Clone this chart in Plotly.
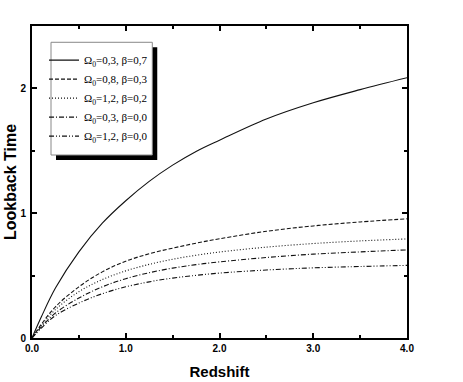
import plotly.graph_objects as go

# Redshift sample points
redshift = [0.0, 0.1, 0.25, 0.5, 0.75, 1.0, 1.25, 1.5, 1.75, 2.0, 2.5, 3.0, 3.5, 4.0]

# Lookback time
lt_03_07 = [0.0, 0.17, 0.40, 0.69, 0.92, 1.10, 1.255, 1.385, 1.495, 1.585, 1.755, 1.885, 1.99, 2.085]
lt_08_03 = [0.0, 0.11, 0.25, 0.41, 0.53, 0.615, 0.675, 0.72, 0.76, 0.795, 0.855, 0.898, 0.93, 0.955]
lt_12_02 = [0.0, 0.10, 0.228, 0.371, 0.468, 0.538, 0.59, 0.631, 0.663, 0.689, 0.728, 0.757, 0.778, 0.794]
lt_03_00 = [0.0, 0.09, 0.20, 0.32, 0.41, 0.475, 0.523, 0.56, 0.588, 0.61, 0.645, 0.672, 0.69, 0.706]
lt_12_00 = [0.0, 0.08, 0.18, 0.28, 0.355, 0.41, 0.45, 0.48, 0.502, 0.52, 0.545, 0.562, 0.573, 0.582]

series_names = [
    "Ω<sub>0</sub>=0,3, β=0,7",
    "Ω<sub>0</sub>=0,8, β=0,3",
    "Ω<sub>0</sub>=1,2, β=0,2",
    "Ω<sub>0</sub>=0,3, β=0,0",
    "Ω<sub>0</sub>=1,2, β=0,0",
]
series_values = [lt_03_07, lt_08_03, lt_12_02, lt_03_00, lt_12_00]
series_dash = ["solid", "4px,2px", "1px,2px", "5px,2px,1px,2px", "5px,2px,1px,2px,1px,2px"]

x_ticks = [0, 1, 2, 3, 4]
x_ticktext = ["0.0", "1.0", "2.0", "3.0", "4.0"]
y_ticks = [0, 1, 2]
y_ticktext = ["0", "1", "2"]

fig = go.Figure()
for name, vals, dash in zip(series_names, series_values, series_dash):
    fig.add_trace(go.Scatter(
        x=redshift, y=vals, mode="lines", name=name,
        line=dict(color="#111111", width=1.1, dash=dash, shape="spline", smoothing=1.0),
    ))

tickfont = dict(family="Liberation Sans, Arial, sans-serif", size=10, color="black", weight="bold")
axis_common = dict(
    showline=True, linecolor="black", linewidth=2, mirror="ticks",
    ticks="inside", ticklen=5, tickwidth=1.5, tickcolor="black",
    showgrid=False, zeroline=False, tickfont=tickfont, automargin=False,
    minor=dict(ticks="inside", ticklen=3, tickwidth=1.5, tickcolor="black", dtick=0.5, showgrid=False),
)

fig.update_layout(
    width=463, height=382,
    margin=dict(l=32, r=56, t=26, b=44),
    paper_bgcolor="white", plot_bgcolor="white",
    xaxis=dict(range=[0, 4], tickvals=x_ticks, ticktext=x_ticktext,
               title=dict(text="Redshift", standoff=13,
                          font=dict(family="Liberation Sans, Arial, sans-serif", size=15, color="black", weight="bold")),
               **axis_common),
    yaxis=dict(range=[0, 2.5], tickvals=y_ticks, ticktext=y_ticktext, ticklabelstandoff=2,
               title=dict(text="Lookback Time", standoff=0,
                          font=dict(family="Liberation Sans, Arial, sans-serif", size=16, color="black", weight="bold")),
               **axis_common),
    showlegend=True,
    legend=dict(x=0.032, y=0.937, xanchor="left", yanchor="top",
                bgcolor="rgba(0,0,0,0)", borderwidth=0,
                font=dict(family="Liberation Serif, Times New Roman, serif", size=11, color="black"),
                tracegroupgap=0, itemwidth=30),
    shapes=[
        dict(type="rect", xref="paper", yref="paper", x0=0.064, x1=0.334, y0=0.5705, y1=0.932,
             fillcolor="black", line=dict(width=0), layer="above"),
        dict(type="rect", xref="paper", yref="paper", x0=0.0507, x1=0.3208, y0=0.5865, y1=0.9478,
             fillcolor="white", line=dict(color="#888888", width=1), layer="above"),
    ],
)

# remove the default page margin so the figure fills the window exactly
fig.write_html("out.html", config={"displayModeBar": False},
               post_script="document.body.style.margin='0px';")
